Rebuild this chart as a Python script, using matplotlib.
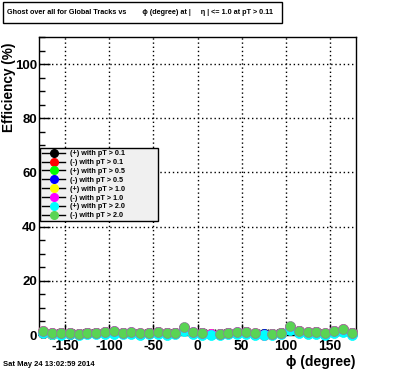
import numpy as np
import matplotlib
matplotlib.use("Agg")
import matplotlib.pyplot as plt
from matplotlib.lines import Line2D
from matplotlib.patches import Rectangle
from matplotlib.ticker import MultipleLocator

plt.rcParams['font.family'] = ['Liberation Sans', 'DejaVu Sans']
plt.rcParams['font.weight'] = 'bold'
plt.rcParams['axes.unicode_minus'] = False

phi = np.arange(-175, 180, 10)
nan = np.nan

labels = ["(+) with pT > 0.1", "(-) with pT > 0.1", "(+) with pT > 0.5", "(-) with pT > 0.5",
          "(+) with pT > 1.0", "(-) with pT > 1.0", "(+) with pT > 2.0", "(-) with pT > 2.0"]
colors = ["#000000", "#ff0000", "#00ff00", "#0000ff", "#ffff00", "#ff00ff", "#00ffff", "#59d454"]

pos_01 = [0.8, 0.5, 0.6, 0.5, 0.4, 0.7, 0.6, 0.9, 1.0, 0.7, 0.8, 0.5, 0.7, 0.9, 0.6, 0.6, 2.2, 0.8,
          0.6, 0.5, 0.4, 0.6, 0.8, 1.0, 0.5, 0.4, 0.3, 0.6, 2.5, 1.2, 0.8, 1.0, 0.5, 1.1, 1.8, 0.7]
neg_01 = [0.9, 0.6, 0.7, 0.6, 0.5, 0.8, 0.7, 1.0, 1.1, 0.8, 0.9, 0.5, 0.8, 1.0, 0.6, 0.7, 2.4, 0.9,
          0.6, 0.4, 0.4, 0.7, 0.9, 1.1, 0.5, 0.3, 0.3, 0.7, 2.7, 1.3, 0.9, 1.1, 0.5, 1.2, 1.9, 0.7]
pos_05 = [1.0, 0.5, 0.7, 0.6, 0.4, 0.8, 0.7, 1.0, 1.1, 0.8, 0.9, 0.5, 0.8, 1.0, 0.6, 0.7, 2.5, 0.9,
          0.6, 0.3, 0.4, 0.7, 0.9, 1.1, 0.5, 0.2, 0.3, 0.7, 2.8, 1.3, 0.9, 1.1, 0.5, 1.2, 2.0, 0.7]
neg_05 = [1.1, 0.5, 0.7, 0.6, 0.5, 0.8, 0.7, 1.1, 1.2, 0.8, 0.9, 0.5, 0.8, 1.0, 0.6, 0.7, 2.6, 0.9,
          0.6, 0.3, 0.4, 0.7, 0.9, 1.1, 0.5, 0.2, 0.3, 0.7, 2.9, 1.4, 0.9, 1.1, 0.5, 1.3, 2.0, 0.7]
pos_10 = [1.3, 0.5, 0.7, 0.6, 0.5, 0.8, 0.7, 1.1, 1.2, 0.8, 0.9, 0.6, 0.8, 1.0, 0.7, 0.7, 2.6, 0.9,
          0.7, 0.2, 0.4, 0.7, 0.9, 1.1, 0.6, 0.1, 0.3, 0.7, 3.0, 1.4, 1.0, 1.1, 0.6, 1.3, 2.1, 0.8]
neg_10 = [1.4, 0.6, 0.8, 0.7, 0.5, 0.9, 0.8, 1.2, 1.3, 0.9, 1.0, 0.6, 0.9, 1.1, 0.7, 0.8, 2.7, 1.0,
          0.7, 0.2, 0.4, 0.8, 1.0, 1.2, 0.6, 0.1, 0.3, 0.8, 3.1, 1.5, 1.0, 1.2, 0.6, 1.4, 2.2, 0.8]
pos_20 = [0.6, 0.2, 0.1, 0.2, 0.1, 0.3, 0.2, 0.4, 0.5, 0.3, 0.4, 0.0, 0.3, 0.4, 0.1, 0.2, 1.5, 0.3,
          0.1, 0.0, 0.0, 0.2, 0.3, 0.5, 0.1, 0.0, 0.0, 0.2, 1.8, 0.6, 0.3, 0.5, 0.0, 0.6, 1.2, 0.1]
neg_20 = [1.6, 0.6, 0.8, 0.7, 0.5, 0.9, 0.8, 1.2, 1.3, 0.9, 1.0, 0.6, 0.9, 1.1, 0.7, 0.8, 2.8, 1.0,
          0.7, nan, 0.4, 0.8, 1.0, 1.2, 0.6, nan, 0.3, 0.8, 3.2, 1.5, 1.0, 1.2, 0.6, 1.4, 2.2, 0.8]
series = [pos_01, neg_01, pos_05, neg_05, pos_10, neg_10, pos_20, neg_20]

xticks = [-150, -100, -50, 0, 50, 100, 150]
yticks = [0, 20, 40, 60, 80, 100]

W, H = 396, 372
fig = plt.figure(figsize=(W / 100, H / 100), dpi=100)
ax = fig.add_axes([39 / W, 1 - 335 / H, (356 - 39) / W, (335 - 37) / H])
ax.set_xlim(-180, 180)
ax.set_ylim(0, 110)

for vals, c in zip(series, colors):
    ec = (0.55, 0.5, 0.6) if c == "#59d454" else c
    ax.plot(phi, vals, linestyle='none', marker='o', markersize=7.2, markerfacecolor=c,
            markeredgecolor=ec, markeredgewidth=0.5, clip_on=False, zorder=3)

ax.set_xticks(xticks)
ax.set_yticks(yticks)
ax.xaxis.set_minor_locator(MultipleLocator(10))
ax.yaxis.set_minor_locator(MultipleLocator(5))
ax.tick_params(axis='both', which='major', direction='in', length=8, width=1, labelsize=10)
ax.tick_params(axis='x', which='major', pad=3)
ax.tick_params(axis='y', which='major', pad=1.5, labelsize=9.5)
ax.tick_params(axis='both', which='minor', direction='in', length=4, width=1)
ax.tick_params(top=False, right=False)
ax.grid(True, which='major', linestyle=(0, (1, 2)), color='black', linewidth=1)
for lab in ax.get_xticklabels() + ax.get_yticklabels():
    lab.set_fontweight('bold')
for s in ax.spines.values():
    s.set_linewidth(1)

fig.text(356 / W, 1 - 362 / H, "\u03d5 (degree)", ha='right', va='center', fontsize=10, fontweight='bold')
fig.text(9 / W, 1 - 87 / H, "Efficiency (%)", ha='center', va='center', rotation=90, fontsize=9.8,
         fontweight='bold')
fig.text(3 / W, 1 - 365 / H, "Sat May 24 13:02:59 2014", ha='left', va='center', fontsize=5.5,
         fontweight='bold')

# title box
fig.patches.append(Rectangle((3 / W, 1 - 23 / H), (282 - 3) / W, 21 / H, transform=fig.transFigure,
                             facecolor='white', edgecolor='black', linewidth=1))
fig.text(7 / W, 1 - 12.5 / H, "Ghost over all for Global Tracks vs        \u03d5 (degree) at |     \u03b7 | <= 1.0 at pT > 0.11",
         ha='left', va='center', fontsize=5.2, fontweight='bold')

handles = [Line2D([0], [0], color='black', linewidth=1, marker='o', markersize=5.5,
                  markerfacecolor=c, markeredgecolor=c) for c in colors]
leg = fig.legend(handles, labels, loc='upper left',
                 bbox_to_anchor=(40 / W, 1 - 223 / H, (158 - 40) / W, 75 / H), mode='expand',
                 fontsize=5.2, frameon=True, fancybox=False, framealpha=1, edgecolor='black',
                 facecolor='#f0f0f0', handlelength=3.2, handletextpad=0.6, labelspacing=0.25,
                 borderpad=0.3, borderaxespad=0)
leg.get_frame().set_linewidth(1)
for t in leg.get_texts():
    t.set_fontweight('bold')

fig.savefig("out.png", dpi=100)
